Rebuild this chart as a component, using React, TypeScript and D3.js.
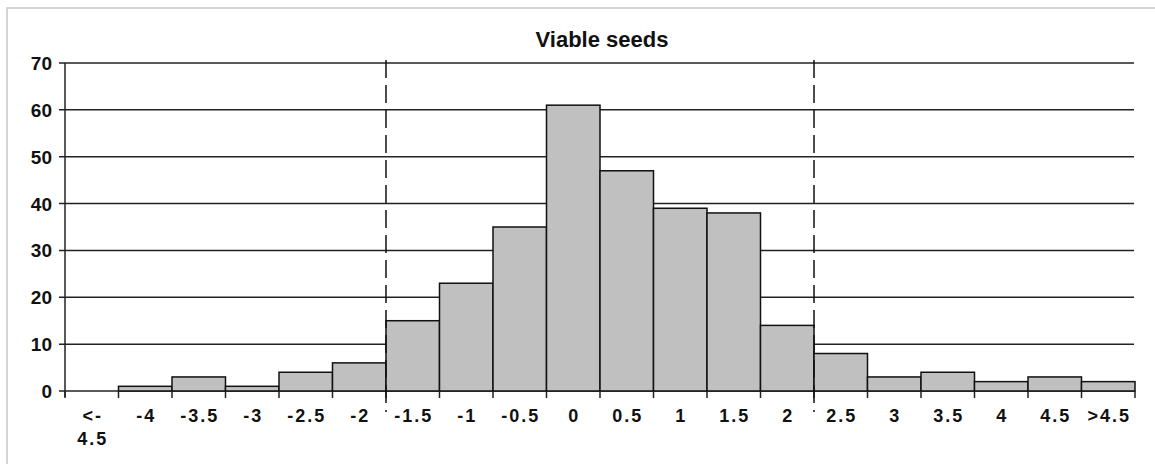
import React from "react";
import * as d3 from "d3";

const categories = ["<-4.5", "-4", "-3.5", "-3", "-2.5", "-2", "-1.5", "-1", "-0.5", "0", "0.5", "1", "1.5", "2", "2.5", "3", "3.5", "4", "4.5", ">4.5"];
const counts = [0, 1, 3, 1, 4, 6, 15, 23, 35, 61, 47, 39, 38, 14, 8, 3, 4, 2, 3, 2];
const tickLabels = [["<-", "4.5"], ["-4"], ["-3.5"], ["-3"], ["-2.5"], ["-2"], ["-1.5"], ["-1"], ["-0.5"], ["0"], ["0.5"], ["1"], ["1.5"], ["2"], ["2.5"], ["3"], ["3.5"], ["4"], ["4.5"], [">4.5"]];
const yTicks = [0, 10, 20, 30, 40, 50, 60, 70];
const thresholdCats = ["-1.5", "2.5"];
const title = "Viable seeds";

const W = 1155, H = 464;
const left = 65, right = 1135, top = 63, bottom = 391;
const font = "'Liberation Sans', Arial, sans-serif";

export default function App() {
  const x = d3.scaleBand<string>().domain(categories).range([left, right]).padding(0);
  const y = d3.scaleLinear().domain([0, 70]).range([bottom, top]);
  const bw = x.bandwidth();
  const boundaries = categories.map((c) => x(c) as number).concat([right]);
  return (
    <svg width={W} height={H} style={{ position: "absolute", left: 0, top: 0, background: "#fff" }}>
      <rect x={7} y={8} width={W + 10} height={H + 10} fill="#fff" stroke="#c8c8c8" strokeWidth={1.5} />
      <text x={602} y={47} textAnchor="middle" fontFamily={font} fontWeight="bold" fontSize={22} fill="#111">{title}</text>
      {yTicks.map((t) => (
        <g key={t}>
          <line x1={59} x2={t === 0 ? right : 1134} y1={y(t)} y2={y(t)} stroke="#222" strokeWidth={1.5} />
          <text x={52} y={y(t) + 7} textAnchor="end" fontFamily={font} fontWeight="bold" fontSize={19} fill="#111">{t}</text>
        </g>
      ))}
      <line x1={left} x2={left} y1={top} y2={bottom + 6} stroke="#222" strokeWidth={1.5} />
      {categories.map((c, i) => (
        <rect key={c} x={x(c) as number} y={y(counts[i])} width={bw} height={bottom - y(counts[i])} fill="#c0c0c0" stroke="#111" strokeWidth={1.5} />
      ))}
      {boundaries.map((b, i) => (
        <line key={i} x1={b} x2={b} y1={bottom} y2={bottom + 7} stroke="#222" strokeWidth={1.5} />
      ))}
      {thresholdCats.map((c) => (
        <line key={c} x1={x(c) as number} x2={x(c) as number} y1={60} y2={412} stroke="#111" strokeWidth={1.5} strokeDasharray="18,7" />
      ))}
      {categories.map((c, i) => (
        <text key={c} x={(x(c) as number) + bw / 2} y={422} textAnchor="middle" fontFamily={font} fontWeight="bold" fontSize={18} letterSpacing={2} fill="#111">
          {tickLabels[i].map((l, j) => (
            <tspan key={j} x={(x(c) as number) + bw / 2 + 1} dy={j === 0 ? 0 : 23}>{l}</tspan>
          ))}
        </text>
      ))}
    </svg>
  );
}
